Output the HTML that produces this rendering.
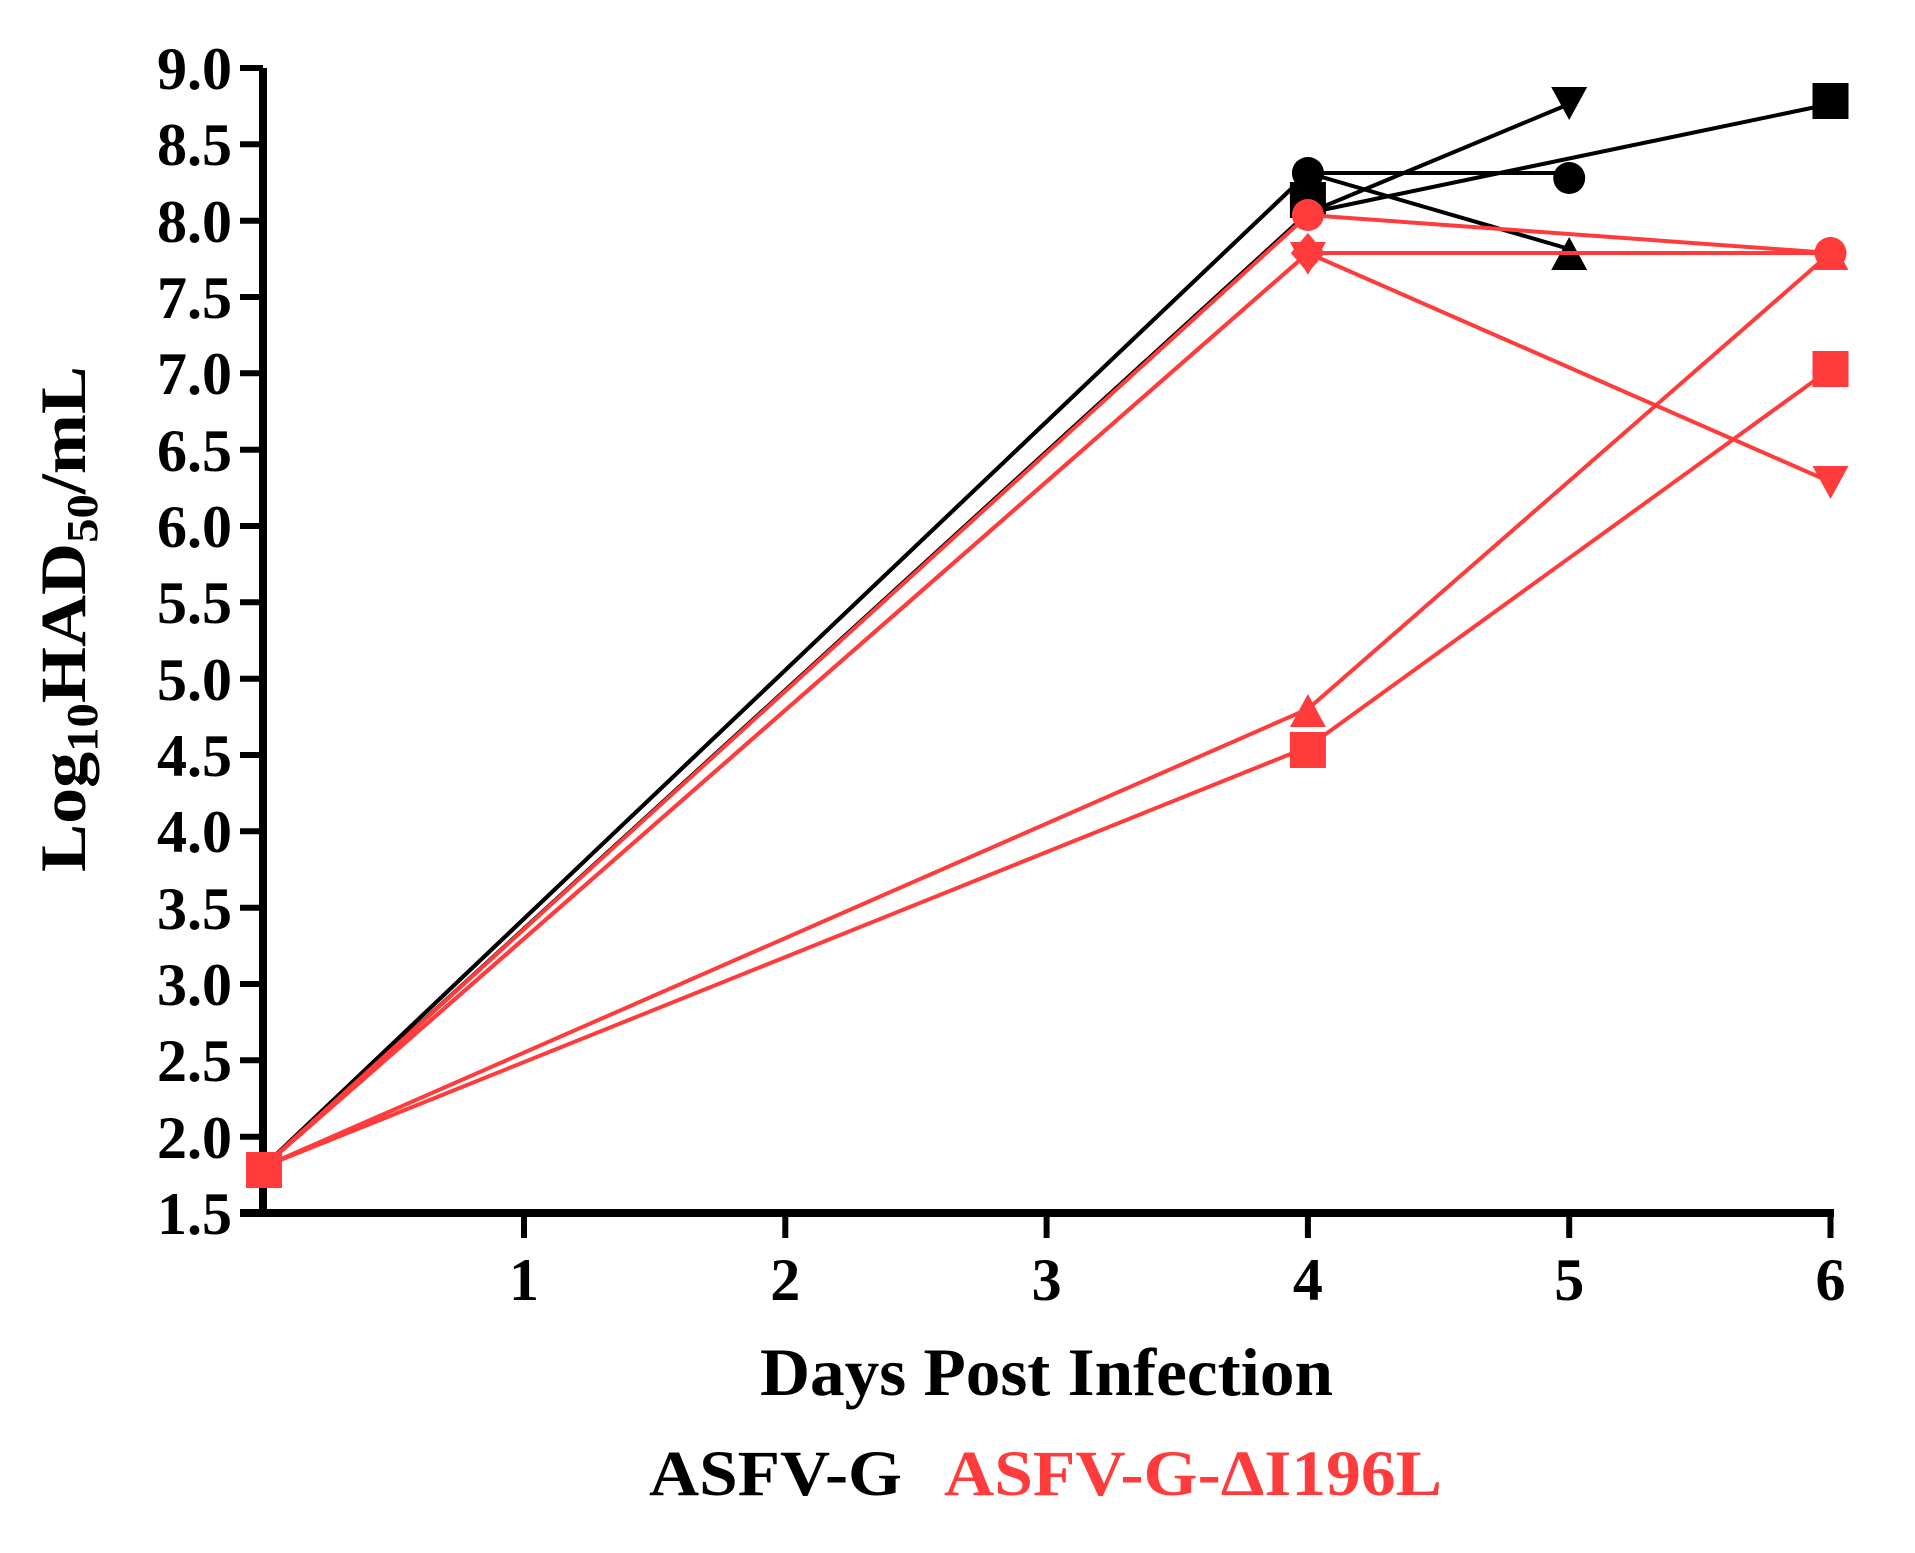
<!DOCTYPE html>
<html><head><meta charset="utf-8"><style>
html,body{margin:0;padding:0;background:#fff;}
svg{display:block;}
text{font-family:"Liberation Serif",serif;font-weight:bold;}
</style></head><body>
<svg width="1915" height="1553" viewBox="0 0 1915 1553" xmlns="http://www.w3.org/2000/svg">
<defs>
<g id="sq"><rect x="-18" y="-18" width="36" height="36"/></g>
<g id="ci"><circle r="16"/></g>
<g id="ut"><polygon points="0,-19 18,14 -18,14"/></g>
<g id="dt"><polygon points="0,19 18,-14 -18,-14"/></g>
</defs>
<!-- axes -->
<g stroke="#000" fill="none">
<line x1="263" y1="68" x2="263" y2="1217" stroke-width="8"/>
<line x1="240" y1="1213" x2="1834" y2="1213" stroke-width="8"/>
</g>
<g stroke="#000" stroke-width="6">
<line x1="240" y1="68" x2="263" y2="68"/>
<line x1="240" y1="144.3" x2="263" y2="144.3"/>
<line x1="240" y1="220.7" x2="263" y2="220.7"/>
<line x1="240" y1="297" x2="263" y2="297"/>
<line x1="240" y1="373.3" x2="263" y2="373.3"/>
<line x1="240" y1="449.7" x2="263" y2="449.7"/>
<line x1="240" y1="526" x2="263" y2="526"/>
<line x1="240" y1="602.3" x2="263" y2="602.3"/>
<line x1="240" y1="678.7" x2="263" y2="678.7"/>
<line x1="240" y1="755" x2="263" y2="755"/>
<line x1="240" y1="831.3" x2="263" y2="831.3"/>
<line x1="240" y1="907.7" x2="263" y2="907.7"/>
<line x1="240" y1="984" x2="263" y2="984"/>
<line x1="240" y1="1060.3" x2="263" y2="1060.3"/>
<line x1="240" y1="1136.7" x2="263" y2="1136.7"/>
<line x1="524" y1="1213" x2="524" y2="1238"/>
<line x1="785.3" y1="1213" x2="785.3" y2="1238"/>
<line x1="1046.6" y1="1213" x2="1046.6" y2="1238"/>
<line x1="1307.9" y1="1213" x2="1307.9" y2="1238"/>
<line x1="1569.2" y1="1213" x2="1569.2" y2="1238"/>
<line x1="1830.5" y1="1213" x2="1830.5" y2="1238"/>
</g>
<g font-size="60" text-anchor="end" fill="#000">
<text x="232" y="89">9.0</text>
<text x="232" y="165">8.5</text>
<text x="232" y="242">8.0</text>
<text x="232" y="318">7.5</text>
<text x="232" y="394">7.0</text>
<text x="232" y="471">6.5</text>
<text x="232" y="547">6.0</text>
<text x="232" y="623">5.5</text>
<text x="232" y="700">5.0</text>
<text x="232" y="776">4.5</text>
<text x="232" y="852">4.0</text>
<text x="232" y="929">3.5</text>
<text x="232" y="1005">3.0</text>
<text x="232" y="1081">2.5</text>
<text x="232" y="1158">2.0</text>
<text x="232" y="1234">1.5</text>
</g>
<g font-size="60" text-anchor="middle" fill="#000">
<text x="524" y="1300">1</text>
<text x="785.3" y="1300">2</text>
<text x="1046.6" y="1300">3</text>
<text x="1307.9" y="1300">4</text>
<text x="1569.2" y="1300">5</text>
<text x="1830.5" y="1300">6</text>
</g>
<text x="760" y="1395" font-size="68" textLength="573" lengthAdjust="spacingAndGlyphs">Days Post Infection</text>
<text x="649" y="1495" font-size="65" textLength="253" lengthAdjust="spacingAndGlyphs" fill="#000">ASFV-G</text>
<text x="944" y="1495" font-size="65" textLength="498" lengthAdjust="spacingAndGlyphs" fill="#ff3b3b">ASFV-G-ΔI196L</text>
<text transform="translate(85,872) rotate(-90)" font-size="65" textLength="506" lengthAdjust="spacingAndGlyphs">Log<tspan font-size="44" dy="12">10</tspan><tspan dy="-12">HAD</tspan><tspan font-size="44" dy="12">50</tspan><tspan dy="-12">/mL</tspan></text>

<!-- black series -->
<g stroke="#000" stroke-width="4" fill="none">
<polyline points="263,1167 1307.9,173 1569.2,173"/>
<polyline points="263,1167 1307.9,213 1569.2,104"/>
<polyline points="263,1167 1307.9,213 1830.5,104"/>
<polyline points="263,1167 1307.9,173 1569.2,249"/>
</g>
<g fill="#000">
<use href="#ci" x="1307.9" y="173"/>
<use href="#ci" x="1569.2" y="178"/>
<use href="#sq" x="1307.9" y="200"/>
<use href="#dt" x="1569.2" y="101"/>
<use href="#sq" x="1830.5" y="101"/>
<use href="#ut" x="1569.2" y="256"/>
</g>
<!-- red series -->
<g stroke="#ff3b3b" stroke-width="4" fill="none">
<polyline points="263,1167 1307.9,215 1830.5,253"/>
<polyline points="263,1167 1307.9,253 1830.5,253"/>
<polyline points="263,1167 1307.9,253 1830.5,482"/>
<polyline points="263,1167 1307.9,709 1830.5,253"/>
<polyline points="263,1167 1307.9,747 1830.5,369"/>
</g>
<g fill="#ff3b3b">
<use href="#ci" x="1307.9" y="215"/>
<use href="#dt" x="1307.9" y="256"/>
<polygon points="1307.9,233 1325,253 1307.9,273 1290.8,253"/>
<use href="#ci" x="1830.5" y="253"/>
<use href="#ut" x="1830.5" y="256"/>
<use href="#dt" x="1830.5" y="480"/>
<use href="#ut" x="1307.9" y="713"/>
<use href="#sq" x="1307.9" y="750"/>
<use href="#sq" x="1830.5" y="369"/>
<use href="#sq" x="264" y="1170"/>
</g>
</svg>
</body></html>
